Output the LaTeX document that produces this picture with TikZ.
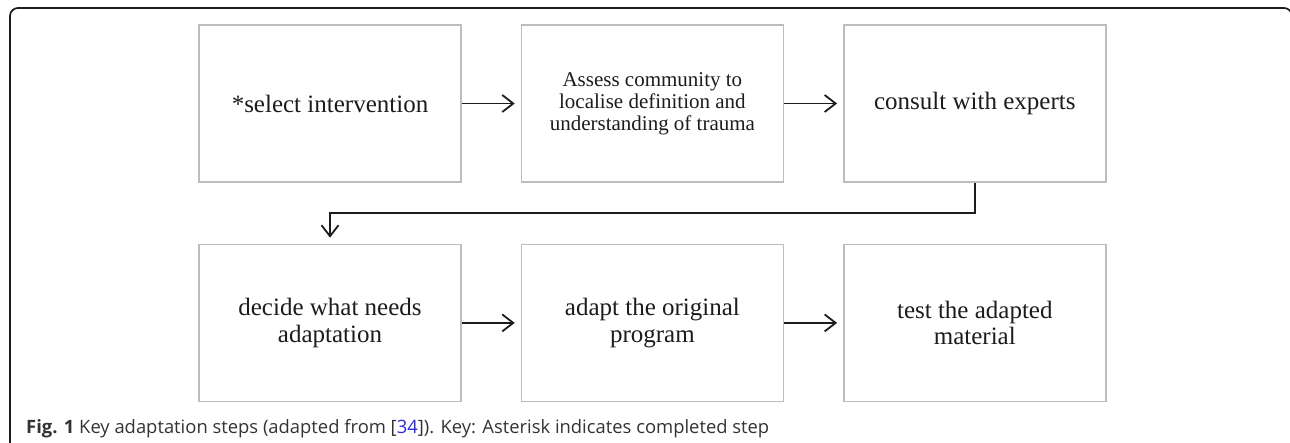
\documentclass[tikz,border=0pt]{standalone}
\usepackage{fontspec}
\setmainfont{Liberation Serif}
\newfontfamily\capfont{Open Sans}
\usepackage{tikz}
\usetikzlibrary{positioning,arrows.meta}
\definecolor{boxgray}{HTML}{BDBDBD}
\definecolor{inkdark}{HTML}{1C1C1C}
\definecolor{capgray}{HTML}{333333}
\definecolor{reflink}{HTML}{2B2BE0}
\tikzset
{
    stepbox/.style = {rectangle, draw=boxgray, line width=1.4pt, align=center, minimum width=262pt, minimum height=157pt, inner sep=0pt, text=inkdark, font=\fontsize{25}{26.5}\selectfont},
    smallstep/.style = {stepbox, font=\fontsize{21}{22}\selectfont},
    flow/.style = {draw=inkdark, line width=1.8pt, -{Straight Barb[length=11pt,width=17pt,line width=1.8pt]}, shorten >=6pt}
}

\begin{document}
\begin{tikzpicture}[x=1pt, y=-1pt, node distance=60pt and 60pt]
	\useasboundingbox (0,0) rectangle (1290,442);
	\draw[inkdark, line width=1.7pt, rounded corners=8pt] (10,460) -- (10,8) -- (1292,8) -- (1292,460);
	% first row
	\node[stepbox] (sel) at (330,103.5) {*select intervention};
	\node[smallstep, right=59pt of sel] (ass) {Assess community to\\localise definition and\\understanding of trauma};
	\node[stepbox, right=59pt of ass] (con) {consult with experts};
	% second row
	\node[stepbox, below=61pt of sel] (dec) {decide what needs\\adaptation};
	\node[stepbox, right=59pt of dec] (ada) {adapt the original\\program};
	\node[stepbox, right=59pt of ada] (tst) {test the adapted\\material};
	\draw[flow] (sel) -- (ass);
	\draw[flow] (ass) -- (con);
	\draw[flow] (con.south) -- ++(0,30) -| (dec.north);
	\draw[flow] (dec) -- (ada);
	\draw[flow] (ada) -- (tst);
	\node[anchor=base west, inner sep=0pt, text=capgray, font=\capfont\fontsize{18.4}{20}\selectfont] (cap) at (26,433)
		{\textbf{Fig. 1} Key adaptation steps (adapted from [\textcolor{reflink}{34}]). Key: Asterisk indicates completed step};
\end{tikzpicture}
\end{document}
